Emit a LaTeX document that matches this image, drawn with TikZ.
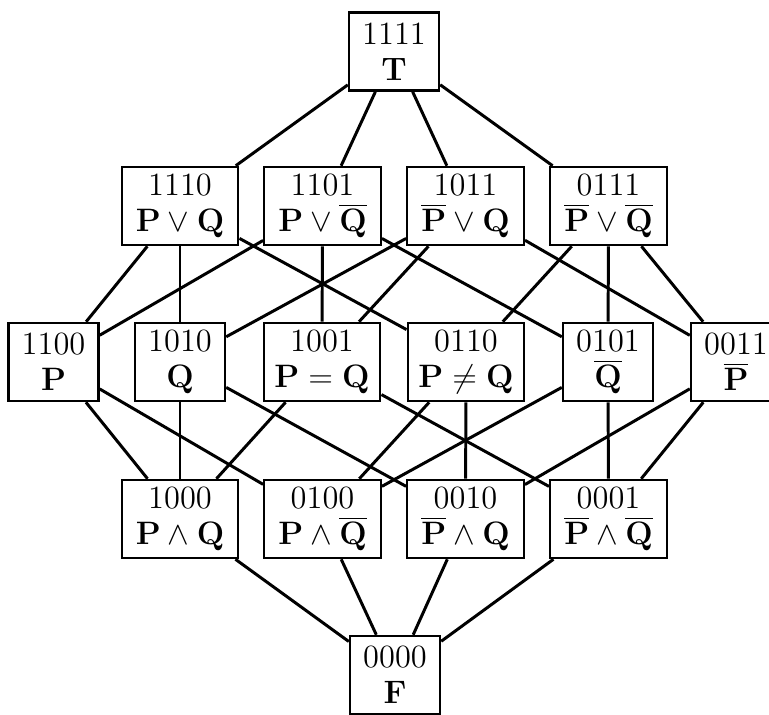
\documentclass[tikz,border=0pt]{standalone}
\begin{document}
\begin{tikzpicture}[x=0.37pt,y=-0.37pt,
  box/.style={draw, line width=0.9pt, inner sep=0pt, minimum height=28.9pt,
    align=center, font=\fontsize{12}{13.3}\selectfont},
  wide/.style={box, minimum width=43.1pt},
  narrow/.style={box, minimum width=33.3pt},
  link/.style={line width=1.1pt}]
\useasboundingbox (0,0) rectangle (769,714);
% top element
\node[narrow] (n1111) at (394,51.5) {1111\\$\mathbf{T}$};
% rank 3
\node[wide] (n1110) at (180,206) {1110\\$\mathbf{P}\vee\mathbf{Q}$};
\node[wide] (n1101) at (322.5,206) {1101\\$\mathbf{P}\vee\overline{\mathbf{Q}}$};
\node[wide] (n1011) at (465.5,206) {1011\\$\overline{\mathbf{P}}\vee\mathbf{Q}$};
\node[wide] (n0111) at (608.5,206) {0111\\$\overline{\mathbf{P}}\vee\overline{\mathbf{Q}}$};
% rank 2
\node[narrow] (n1100) at (53.5,362) {1100\\$\mathbf{P}$};
\node[narrow] (n1010) at (180,362) {1010\\$\mathbf{Q}$};
\node[wide] (n1001) at (322,362) {1001\\$\mathbf{P}=\mathbf{Q}$};
\node[wide] (n0110) at (466,362) {0110\\$\mathbf{P}\neq\mathbf{Q}$};
\node[narrow] (n0101) at (608,362) {0101\\$\overline{\mathbf{Q}}$};
\node[narrow] (n0011) at (736,362) {0011\\$\overline{\mathbf{P}}$};
% rank 1
\node[wide] (n1000) at (180,519) {1000\\$\mathbf{P}\wedge\mathbf{Q}$};
\node[wide] (n0100) at (322.5,519) {0100\\$\mathbf{P}\wedge\overline{\mathbf{Q}}$};
\node[wide] (n0010) at (465.5,519) {0010\\$\overline{\mathbf{P}}\wedge\mathbf{Q}$};
\node[wide] (n0001) at (608.5,519) {0001\\$\overline{\mathbf{P}}\wedge\overline{\mathbf{Q}}$};
% bottom element
\node[narrow] (n0000) at (395,675) {0000\\$\mathbf{F}$};
% covering relations
\foreach \u/\v in {1111/1110,1111/1101,1111/1011,1111/0111,
  1110/1100,1110/1010,1110/0110,
  1101/1100,1101/1001,1101/0101,
  1011/1010,1011/1001,1011/0011,
  0111/0110,0111/0101,0111/0011,
  1100/1000,1100/0100,
  1010/1000,1010/0010,
  1001/1000,1001/0001,
  0110/0100,0110/0010,
  0101/0100,0101/0001,
  0011/0010,0011/0001,
  1000/0000,0100/0000,0010/0000,0001/0000}
  \draw[link] (n\u) -- (n\v);
\end{tikzpicture}
\end{document}
